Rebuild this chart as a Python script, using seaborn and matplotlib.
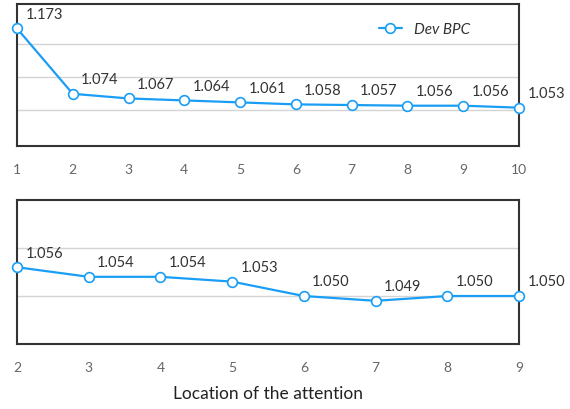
import numpy as np
import pandas as pd
import matplotlib
matplotlib.use('Agg')
import matplotlib.pyplot as plt
import seaborn as sns

# Dev BPC by location of the attention
top_loc = [1, 2, 3, 4, 5, 6, 7, 8, 9, 10]
top_bpc = [1.173, 1.074, 1.067, 1.064, 1.061, 1.058, 1.057, 1.056, 1.056, 1.053]
bot_loc = [2, 3, 4, 5, 6, 7, 8, 9]
bot_bpc = [1.056, 1.054, 1.054, 1.053, 1.050, 1.049, 1.050, 1.050]

sns.set_style('white')
plt.rcParams['font.family'] = ['Lato', 'DejaVu Sans']

blue = '#1a9ef5'
fig = plt.figure(figsize=(5.7, 4.1), dpi=100)
ax1 = fig.add_axes([0.0298, 0.6415, 0.8807, 0.3463])
ax2 = fig.add_axes([0.0298, 0.1585, 0.8807, 0.3512])

def draw(ax, x, y, ylim, yticks, legend):
    df = pd.DataFrame({'loc': x, 'bpc': y})
    sns.lineplot(data=df, x='loc', y='bpc', ax=ax, color=blue, linewidth=1.6,
                 marker='o', markersize=7, markerfacecolor='white',
                 markeredgecolor=blue, markeredgewidth=1.2,
                 label='Dev BPC' if legend else None, legend=legend, clip_on=False, zorder=3)
    ax.set_xlim(x[0], x[-1])
    ax.set_ylim(*ylim)
    ax.set_xticks(x)
    ax.set_yticks(yticks)
    ax.set_yticklabels([])
    ax.yaxis.grid(True, color='#d4d4d4', linewidth=1)
    ax.set_axisbelow(True)
    ax.tick_params(axis='x', length=0, pad=12, labelsize=10, labelcolor='#666666')
    ax.tick_params(axis='y', length=0)
    for s in ax.spines.values():
        s.set_color('#333333')
        s.set_linewidth(1.5)
    ax.set_xlabel('')
    ax.set_ylabel('')
    for xi, yi in zip(x, y):
        ax.annotate(f'{yi:.3f}', (xi, yi), xytext=(6, 5.5), textcoords='offset points',
                    fontsize=10.5, color='#333333', ha='left', va='bottom', annotation_clip=False)

draw(ax1, top_loc, top_bpc, (0.995, 1.21), [1.05, 1.10, 1.15], True)
draw(ax2, bot_loc, bot_bpc, (1.04, 1.07), [1.05, 1.06], False)

leg = ax1.legend(loc='upper right', frameon=False, fontsize=11, handlelength=1.5,
                 bbox_to_anchor=(0.93, 0.97))
for t in leg.get_texts():
    t.set_fontstyle('italic')
    t.set_color('#333333')

ax2.set_xlabel('Location of the attention', fontsize=12.5, color='#222222', labelpad=9)

fig.savefig('out.png', dpi=100)
